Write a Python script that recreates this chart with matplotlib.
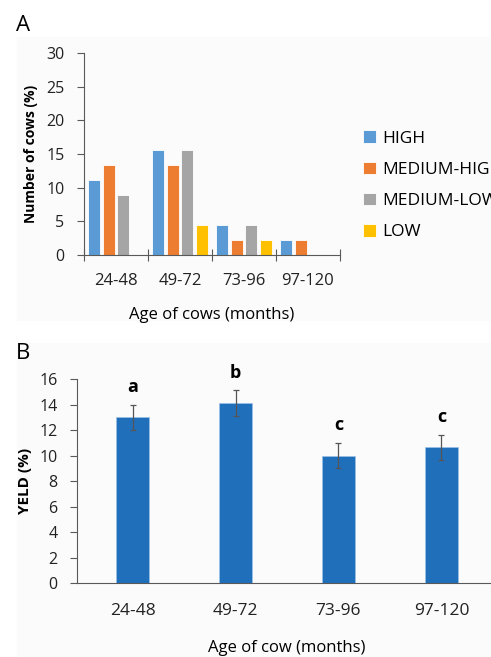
import numpy as np
import matplotlib.pyplot as plt
from matplotlib.patches import Rectangle

plt.rcParams['font.family'] = ['Open Sans', 'DejaVu Sans']

# panel A data
age_groups = ['24-48', '49-72', '73-96', '97-120']
levels = ['HIGH', 'MEDIUM-HIGH', 'MEDIUM-LOW', 'LOW']
high = [11.1, 15.6, 4.4, 2.2]
medium_high = [13.3, 13.3, 2.2, 2.2]
medium_low = [8.9, 15.6, 4.4, 0]
low = [0, 4.4, 2.2, 0]
level_colors = ['#5B9BD5', '#ED7D31', '#A5A5A5', '#FFC000']

# panel B data
yield_pct = [13.0, 14.1, 10.0, 10.65]
yield_err = [1.0, 1.0, 1.0, 1.0]
letters = ['a', 'b', 'c', 'c']

fig = plt.figure(figsize=(4.91, 6.57), dpi=100)

# faint background boxes like the source figure
fig.patches.append(Rectangle((17/491, 1-320/657), 1, 283/657, transform=fig.transFigure,
                             color='#fbfbfb', zorder=-10))
fig.patches.append(Rectangle((17/491, 0), 1, 1-340/657-0.005, transform=fig.transFigure,
                             color='#fbfbfb', zorder=-10))

fig.text(16/491, 1-31/657, 'A', fontsize=16)
fig.text(16/491, 1-359/657, 'B', fontsize=16)

### Panel A
axA = fig.add_axes([84/491, 1-255/657, 256/491, 202/657])
axA.set_facecolor('none')
series = [high, medium_high, medium_low, low]
w = 0.19
step = 0.229
x = np.arange(len(age_groups))
for i, vals in enumerate(series):
    pos = x + 0.0625 + w/2 + i*step
    axA.bar(pos, vals, width=w, color=level_colors[i], label=levels[i],
            edgecolor='white', linewidth=0.6)
axA.set_xlim(0, 4)
axA.set_ylim(0, 30)
axA.set_yticks(range(0, 31, 5))
axA.set_xticks([0, 1, 2, 3, 4])
axA.set_xticklabels([])
axA.set_xticks(x + 0.5, minor=True)
axA.set_xticklabels(age_groups, minor=True)
axA.tick_params(axis='x', which='major', direction='inout', length=8, color='#595959', width=0.8)
axA.tick_params(axis='x', which='minor', length=0, pad=13, labelsize=12, labelcolor='#222222')
axA.tick_params(axis='y', direction='out', length=5, color='#595959', width=0.8,
                labelsize=11.5, labelcolor='#222222', pad=9)
for s in ['top', 'right']:
    axA.spines[s].set_visible(False)
for s in ['left', 'bottom']:
    axA.spines[s].set_color('#595959')
    axA.spines[s].set_linewidth(0.8)
axA.set_ylabel('Number of cows (%)', fontsize=10, fontweight='bold', labelpad=6)
axA.set_xlabel('Age of cows (months)', fontsize=12, labelpad=13)
axA.legend(loc='center left', bbox_to_anchor=(1.03, 0.345), frameon=False,
           fontsize=12.5, handlelength=0.75, handleheight=0.75, handletextpad=0.35,
           labelspacing=0.85)

### Panel B
axB = fig.add_axes([77/491, 1-583.3/657, 420/491, 204.3/657])
axB.set_facecolor('none')
xb = np.arange(len(age_groups))
axB.bar(xb, yield_pct, width=0.317, color='#1F6FBA', edgecolor='#9DC3E6', linewidth=0.5)
axB.errorbar(xb, yield_pct, yerr=yield_err, fmt='none', ecolor='#555555',
             elinewidth=0.9, capsize=2.5, capthick=0.9)
for xi, v, e, t in zip(xb, yield_pct, yield_err, letters):
    axB.text(xi, v + e + 1.4, t, ha='center', va='center', fontsize=13, fontweight='bold')
axB.set_xlim(-0.54, 3.54)
axB.set_ylim(0, 16)
axB.set_yticks(range(0, 17, 2))
axB.set_xticks(xb)
axB.set_xticklabels(age_groups)
axB.tick_params(axis='x', length=0, pad=14, labelsize=12.5, labelcolor='#222222')
axB.tick_params(axis='y', direction='out', length=5, color='#595959', width=0.8,
                labelsize=11.5, labelcolor='#222222', pad=9)
for s in ['top', 'right']:
    axB.spines[s].set_visible(False)
for s in ['left', 'bottom']:
    axB.spines[s].set_color('#595959')
    axB.spines[s].set_linewidth(0.8)
axB.set_ylabel('YELD (%)', fontsize=11, fontweight='bold', labelpad=5)
axB.set_xlabel('Age of cow (months)', fontsize=12, labelpad=15)

fig.savefig('out.png', dpi=100)
